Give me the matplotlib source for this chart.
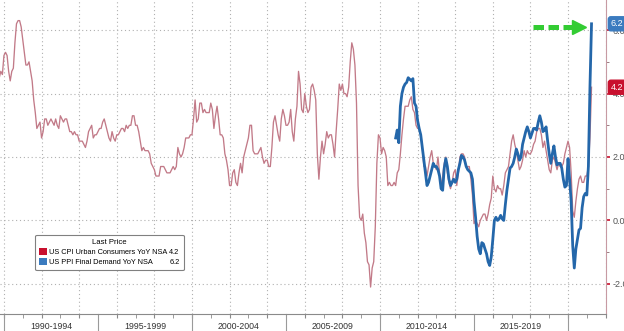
import matplotlib
matplotlib.use("Agg")
import matplotlib.pyplot as plt
from matplotlib.patches import Patch
from matplotlib.ticker import MultipleLocator, FormatStrFormatter
import numpy as np

plt.rcParams['font.family'] = ['Liberation Sans', 'DejaVu Sans']

# US CPI Urban Consumers YoY NSA, monthly from Oct 1989
cpi_start = (1989, 10)
cpi_yoy = [
    4.5, 4.7, 4.6,
    5.2, 5.3, 5.2, 4.7, 4.4, 4.7, 4.8, 5.6, 6.2, 6.3, 6.3, 6.1,   # 1990
    5.7, 5.3, 4.9, 4.9, 5.0, 4.7, 4.4, 3.8, 3.4, 2.9, 3.0, 3.1,   # 1991
    2.6, 2.8, 3.2, 3.2, 3.0, 3.1, 3.2, 3.1, 3.0, 3.2, 3.0, 2.9,   # 1992
    3.3, 3.2, 3.1, 3.2, 3.2, 3.0, 2.8, 2.8, 2.7, 2.8, 2.7, 2.7,   # 1993
    2.5, 2.5, 2.5, 2.4, 2.3, 2.5, 2.8, 2.9, 3.0, 2.6, 2.7, 2.7,   # 1994
    2.8, 2.9, 2.9, 3.1, 3.2, 3.0, 2.8, 2.6, 2.5, 2.8, 2.6, 2.5,   # 1995
    2.7, 2.7, 2.8, 2.9, 2.9, 2.8, 3.0, 2.9, 3.0, 3.0, 3.3, 3.3,   # 1996
    3.0, 3.0, 2.8, 2.5, 2.2, 2.3, 2.2, 2.2, 2.2, 2.1, 1.8, 1.7,   # 1997
    1.6, 1.4, 1.4, 1.4, 1.7, 1.7, 1.7, 1.6, 1.5, 1.5, 1.5, 1.6,   # 1998
    1.7, 1.6, 1.7, 2.3, 2.1, 2.0, 2.1, 2.3, 2.6, 2.6, 2.6, 2.7,   # 1999
    2.7, 3.2, 3.8, 3.1, 3.2, 3.7, 3.7, 3.4, 3.5, 3.4, 3.4, 3.4,   # 2000
    3.7, 3.5, 2.9, 3.3, 3.6, 3.2, 2.7, 2.7, 2.6, 2.1, 1.9, 1.6,   # 2001
    1.1, 1.1, 1.5, 1.6, 1.2, 1.1, 1.5, 1.8, 1.5, 2.0, 2.2, 2.4,   # 2002
    2.6, 3.0, 3.0, 2.2, 2.1, 2.1, 2.1, 2.2, 2.3, 2.0, 1.8, 1.9,   # 2003
    1.9, 1.7, 1.7, 2.3, 3.1, 3.3, 3.0, 2.7, 2.5, 3.2, 3.5, 3.3,   # 2004
    3.0, 3.0, 3.1, 3.5, 2.8, 2.5, 3.2, 3.6, 4.7, 4.3, 3.5, 3.4,   # 2005
    4.0, 3.6, 3.4, 3.5, 4.2, 4.3, 4.1, 3.8, 2.1, 1.3, 2.0, 2.5,   # 2006
    2.1, 2.4, 2.8, 2.6, 2.7, 2.7, 2.4, 2.0, 2.8, 3.5, 4.3, 4.1,   # 2007
    4.3, 4.0, 4.0, 3.9, 4.2, 5.0, 5.6, 5.4, 4.9, 3.7, 1.1, 0.1,   # 2008
    0.0, 0.2, -0.4, -0.7, -1.3, -1.4, -2.1, -1.5, -1.3, -0.2, 1.8, 2.7,  # 2009
    2.6, 2.1, 2.3, 2.2, 2.0, 1.1, 1.2, 1.1, 1.1, 1.2, 1.1, 1.5,   # 2010
    1.6, 2.1, 2.7, 3.2, 3.6, 3.6, 3.6, 3.8, 3.9, 3.5, 3.4, 3.0,   # 2011
    2.9, 2.9, 2.7, 2.3, 1.7, 1.7, 1.4, 1.7, 2.0, 2.2, 1.8, 1.7,   # 2012
    1.6, 2.0, 1.5, 1.1, 1.4, 1.8, 2.0, 1.5, 1.2, 1.0, 1.2, 1.5,   # 2013
    1.6, 1.1, 1.5, 2.0, 2.1, 2.1, 2.0, 1.7, 1.7, 1.7, 1.3, 0.8,   # 2014
    -0.1, 0.0, -0.1, -0.2, 0.0, 0.1, 0.2, 0.2, 0.0, 0.2, 0.5, 0.7,  # 2015
    1.4, 1.0, 0.9, 1.1, 1.0, 1.0, 0.8, 1.1, 1.5, 1.6, 1.7, 2.1,   # 2016
    2.5, 2.7, 2.4, 2.2, 1.9, 1.6, 1.7, 1.9, 2.2, 2.0, 2.2, 2.1,   # 2017
    2.1, 2.2, 2.4, 2.5, 2.8, 2.9, 2.9, 2.7, 2.3, 2.5, 2.2, 1.9,   # 2018
    1.6, 1.5, 1.9, 2.0, 1.8, 1.6, 1.8, 1.7, 1.7, 1.8, 2.1, 2.3,   # 2019
    2.5, 2.3, 1.5, 0.3, 0.1, 0.6, 1.0, 1.3, 1.4, 1.2, 1.2, 1.4,   # 2020
    1.4, 1.7, 2.6, 4.2,                                           # 2021
]

# US PPI Final Demand YoY NSA, monthly from Nov 2010
ppi_start = (2010, 11)
ppi_yoy = [
    2.6, 2.85,
    2.45, 3.6, 4.0, 4.2, 4.3, 4.35, 4.5, 4.45, 4.4, 4.47, 3.7, 3.6,   # 2011
    3.15, 2.9, 2.7, 2.3, 1.9, 1.5, 1.1, 1.2, 1.4, 1.6, 1.8, 1.7,     # 2012
    1.7, 1.6, 1.4, 1.0, 0.95, 1.65, 1.95, 1.7, 1.3, 1.1, 1.2, 1.3,   # 2013
    1.2, 1.3, 1.6, 1.8, 2.05, 2.0, 1.9, 1.7, 1.6, 1.55, 1.5, 1.3,    # 2014
    0.6, 0.1, -0.5, -0.9, -1.05, -0.7, -0.74, -0.9, -1.05, -1.3, -1.42, -1.15,  # 2015
    -0.6, 0.0, 0.1, 0.0, 0.05, 0.16, 0.05, 0.0, 0.5, 0.95, 1.3, 1.65,  # 2016
    1.7, 1.8, 2.0, 2.25, 2.1, 1.9, 2.0, 2.4, 2.6, 2.8, 2.95, 2.8,    # 2017
    2.6, 2.75, 2.9, 2.9, 2.85, 3.1, 3.3, 3.1, 2.8, 2.85, 2.95, 2.5,  # 2018
    2.1, 1.8, 2.1, 2.35, 2.0, 1.75, 1.8, 1.8, 1.65, 1.3, 1.05, 1.1,  # 2019
    1.95, 1.3, 0.6, -0.8, -1.5, -0.9, -0.6, -0.3, -0.25, 0.4, 0.75, 0.85,  # 2020
    0.8, 1.7, 4.2, 6.2,                                              # 2021
]

cpi_name = "US CPI Urban Consumers YoY NSA"
ppi_name = "US PPI Final Demand YoY NSA"
period_labels = ["1990-1994", "1995-1999", "2000-2004", "2005-2009",
                 "2010-2014", "2015-2019"]
period_starts = [1990, 1995, 2000, 2005, 2010, 2015, 2020]

# green arrow pointing at the latest PPI print
arrow_x = (2018.14, 2020.25, 2020.88)
arrow_y = 6.09

CPI_COL = '#c27a88'
PPI_COL = '#2467aa'
CPI_TAG = '#c8102e'
PPI_TAG = '#3b7bbf'


def month_axis(start, n):
    y0, m0 = start
    return y0 + (m0 - 1) / 12.0 + np.arange(n) / 12.0


cpi_x = month_axis(cpi_start, len(cpi_yoy))
ppi_x = month_axis(ppi_start, len(ppi_yoy))

fig = plt.figure(figsize=(6.24, 3.31), dpi=100)
ax = fig.add_axes([0.0, 17 / 331, 606 / 624, 314 / 331])

ax.plot(cpi_x, cpi_yoy, color=CPI_COL, lw=0.95, zorder=3)
ax.plot(ppi_x, ppi_yoy, color=PPI_COL, lw=2.0, zorder=4)

ax.set_xlim(1989.79, 2022.02)
ax.set_ylim(-2.95, 6.95)

# axes / ticks
for s in ['left', 'top']:
    ax.spines[s].set_visible(False)
ax.spines['bottom'].set_color('#8a8a8a')
ax.spines['right'].set_color('#c79aa3')
ax.spines['bottom'].set_linewidth(0.8)
ax.spines['right'].set_linewidth(0.8)

ax.xaxis.set_major_locator(MultipleLocator(2))
ax.xaxis.set_minor_locator(MultipleLocator(1))
ax.tick_params(axis='x', which='both', direction='out', length=3,
               color='#8a8a8a', labelbottom=False)

ax.yaxis.tick_right()
ax.yaxis.set_major_locator(MultipleLocator(2))
ax.yaxis.set_minor_locator(MultipleLocator(1))
ax.yaxis.set_major_formatter(FormatStrFormatter('%.1f'))
ax.tick_params(axis='y', which='major', direction='out', length=3, width=1.2,
               color=CPI_TAG, labelcolor='#555555', labelsize=6.5, pad=2)
ax.tick_params(axis='y', which='minor', direction='out', length=2,
               color='#8a6a70')

ax.grid(True, which='major', color='#b0b0b0', ls=(0, (1, 2.5)), lw=0.8)
ax.set_axisbelow(True)

# period separators and labels under the axis
trans = ax.get_xaxis_transform()
for x in period_starts:
    ax.plot([x, x], [0, -0.06], transform=trans, color='#9a9a9a', lw=0.8,
            clip_on=False)
for lab, a, b in zip(period_labels, period_starts[:-1], period_starts[1:]):
    ax.text((a + b) / 2, -0.04, lab, transform=trans, ha='center',
            va='center', fontsize=6.3, color='#333333')

# last value tags on the right axis
for val, col in [(cpi_yoy[-1], CPI_TAG), (ppi_yoy[-1], PPI_TAG)]:
    ax.annotate(f"{val:.1f}", xy=(1.0, val),
                xycoords=('axes fraction', 'data'),
                xytext=(3.5, 0), textcoords='offset points',
                ha='left', va='center', fontsize=6.5, color='white',
                bbox=dict(boxstyle='round,pad=0.28', fc=col, ec=col),
                annotation_clip=False, zorder=6)

# green dashed arrow
ax.plot(arrow_x[:2], [arrow_y, arrow_y], color='#33cc33', lw=3.6,
        ls=(0, (2.1, 0.9)), dash_capstyle='butt', zorder=5)
ax.plot([(arrow_x[1] + arrow_x[2]) / 2], [arrow_y], marker='>', ms=9.5,
        color='#33cc33', mec='#33cc33', zorder=5)

# legend
handles = [Patch(fc=CPI_TAG, ec='none'), Patch(fc=PPI_TAG, ec='none'),
           Patch(fc='none', ec='none'), Patch(fc='none', ec='none')]
labels = [cpi_name, ppi_name, f"{cpi_yoy[-1]:.1f}", f"{ppi_yoy[-1]:.1f}"]
leg = ax.legend(handles, labels, ncol=2, loc='upper left',
                bbox_to_anchor=(0.058, 0.2516), borderaxespad=0,
                title='Last Price', handlelength=1.0, handleheight=1.0,
                handletextpad=0.3, columnspacing=-1.0, labelspacing=0.3,
                borderpad=0.55, frameon=True, fancybox=True,
                edgecolor='#808080', framealpha=1,
                prop={'size': 5.3}, title_fontproperties={'size': 5.6})
leg.get_frame().set_linewidth(0.8)

fig.savefig('out.png', dpi=100)
